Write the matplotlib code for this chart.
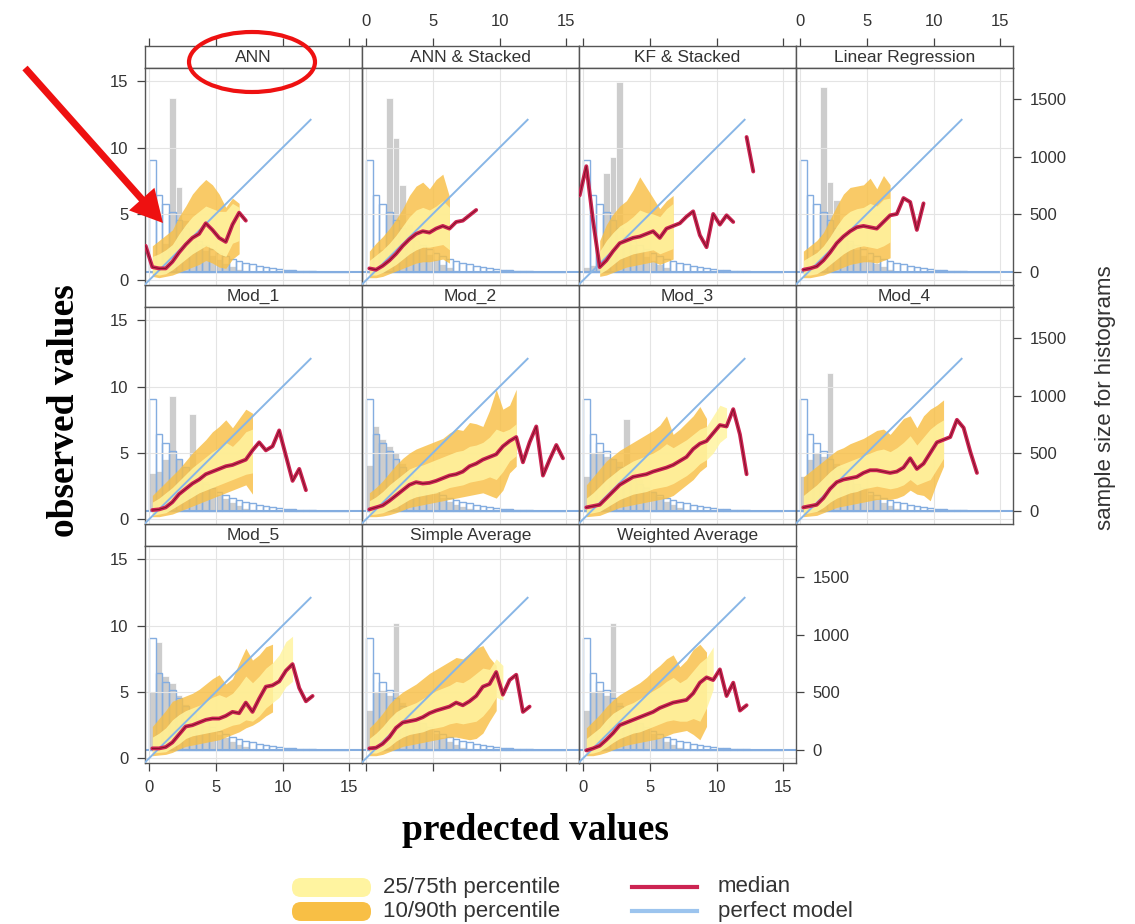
import numpy as np
import matplotlib
matplotlib.use("Agg")
import matplotlib.pyplot as plt
from matplotlib.patches import FancyBboxPatch, Ellipse, FancyArrow

plt.rcParams['font.family'] = ['Liberation Sans', 'DejaVu Sans']

nan = np.nan

# ---------------------------------------------------------------- data
MODELS = ["ANN", "ANN & Stacked", "KF & Stacked", "Linear Regression",
          "Mod_1", "Mod_2", "Mod_3", "Mod_4",
          "Mod_5", "Simple Average", "Weighted Average"]

# centres of the 0.5-wide predicted-value classes used for the quantile curves
CLASS_CENTRES = np.arange(-0.25, 15.0, 0.5)
# histogram classes (0.5 wide)
HIST_EDGES = np.arange(0.0, 15.01, 0.5)
# perfect model: observed == predicted
PERFECT_RANGE = [-0.3, 12.1]

# observed values histogram (same observations for every model)
OBS_COUNTS = [970, 670, 590, 520, 450, 380, 320, 270, 230, 195, 165, 140, 115, 95, 80,
              65, 52, 42, 34, 27, 21, 16, 12, 9, 6, 4, 3, 2, 1, 1]

# predicted values histograms
PRED_COUNTS = {
    "ANN":               [0, 80, 250, 1510, 740, 450, 320, 250, 190, 150, 110, 80, 50, 30, 15, 8],
    "ANN & Stacked":     [0, 60, 200, 1510, 1160, 750, 420, 300, 220, 160, 110, 70, 40, 20, 10],
    "KF & Stacked":      [40, 60, 100, 860, 1000, 1650, 320, 240, 180, 140, 100, 70, 40, 20, 10],
    "Linear Regression": [0, 60, 200, 1600, 780, 620, 350, 260, 200, 150, 110, 80, 50, 25, 10],
    "Mod_1":             [330, 350, 450, 1000, 450, 380, 840, 350, 260, 200, 150, 110, 80, 50, 30, 15],
    "Mod_2":             [400, 740, 620, 560, 500, 420, 360, 300, 250, 200, 160, 120, 90, 60, 40, 25, 15],
    "Mod_3":             [300, 500, 520, 480, 450, 430, 800, 350, 280, 220, 170, 130, 90, 60, 35, 20],
    "Mod_4":             [300, 450, 500, 480, 1200, 420, 380, 300, 240, 190, 150, 110, 80, 50, 30, 15],
    "Mod_5":             [500, 940, 640, 580, 480, 400, 330, 270, 220, 180, 140, 110, 80, 55, 35, 20],
    "Simple Average":    [350, 500, 520, 480, 1100, 420, 370, 300, 240, 190, 150, 110, 80, 50, 30, 15],
    "Weighted Average":  [350, 500, 520, 480, 1100, 420, 370, 300, 240, 190, 150, 110, 80, 50, 30, 15],
}

# conditional quantiles of observed values, per predicted-value class
MEDIAN = {
    "ANN":               [2.6, 1.0, 0.9, 0.9, 1.4, 2.1, 2.7, 3.2, 3.5, 4.3, 3.8, 3.2, 2.9, 4.2, 5.1, 4.5],
    "ANN & Stacked":     [nan, 0.9, 0.8, 1.1, 1.5, 2.0, 2.6, 3.1, 3.5, 3.7, 3.6, 3.9, 4.1, 3.9, 4.4, 4.5, 4.9, 5.3],
    "KF & Stacked":      [6.4, 8.6, 4.5, 1.0, 1.5, 2.2, 2.8, 3.0, 3.2, 3.3, 3.5, 3.7, 3.2, 3.9, 4.1, 4.3,
                          4.8, 5.2, 3.4, 2.5, 5.0, 4.2, 4.9, 4.4, nan, 10.8, 8.2],
    "Linear Regression": [nan, 0.8, 0.9, 1.05, 1.5, 2.1, 2.8, 3.3, 3.7, 4.0, 4.1, 4.0, 3.9, 4.4, 4.9, 5.0,
                          6.2, 5.9, 3.8, 5.8],
    "Mod_1":             [nan, 0.7, 0.75, 0.9, 1.3, 1.9, 2.3, 2.7, 3.0, 3.4, 3.6, 3.8, 4.0, 4.1, 4.3, 4.5,
                          5.2, 5.8, 5.2, 5.5, 6.7, 4.8, 2.9, 3.8, 2.2],
    "Mod_2":             [nan, 0.75, 0.9, 1.05, 1.4, 1.8, 2.2, 2.6, 2.8, 2.7, 2.75, 2.9, 3.1, 3.3, 3.4, 3.6,
                          4.0, 4.2, 4.5, 4.7, 4.9, 5.5, 5.9, 6.2, 4.3, 5.8, 7.0, 3.3, 4.5, 5.6, 4.6],
    "Mod_3":             [nan, 0.9, 1.0, 1.1, 1.6, 2.1, 2.6, 2.9, 3.2, 3.3, 3.4, 3.6, 3.75, 3.9, 4.1, 4.4,
                          4.7, 5.3, 5.7, 5.9, 6.5, 7.1, 7.0, 8.3, 6.4, 3.4],
    "Mod_4":             [nan, 0.9, 1.0, 1.1, 1.6, 2.3, 2.8, 3.0, 3.1, 3.2, 3.5, 3.7, 3.7, 3.6, 3.5, 3.6,
                          3.9, 4.6, 3.8, 4.2, 5.0, 5.8, 6.0, 6.2, 7.5, 6.9, 5.1, 3.5],
    "Mod_5":             [nan, 0.75, 0.75, 0.85, 1.2, 1.8, 2.4, 2.5, 2.7, 2.9, 3.0, 3.0, 3.2, 3.5, 3.4, 4.2,
                          3.5, 4.5, 5.4, 5.5, 5.8, 6.6, 7.1, 5.3, 4.3, 4.7],
    "Simple Average":    [nan, 0.75, 0.8, 1.1, 1.6, 2.3, 2.7, 2.8, 2.9, 3.1, 3.4, 3.6, 3.75, 3.9, 4.2, 4.0,
                          4.3, 4.7, 5.4, 5.6, 6.5, 4.8, 5.9, 6.3, 3.5, 3.9],
    "Weighted Average":  [nan, 0.6, 0.75, 0.95, 1.4, 1.9, 2.5, 2.7, 2.9, 3.1, 3.3, 3.5, 3.8, 4.0, 4.2, 4.3,
                          4.4, 4.9, 5.7, 6.1, 5.9, 6.7, 4.7, 5.7, 3.6, 4.0],
}

P90 = {
    "ANN":               [nan, 2.6, 3.0, 3.4, 3.8, 4.8, 5.6, 6.5, 7.1, 7.6, 7.2, 6.5, 5.5, 6.2, 5.8],
    "ANN & Stacked":     [nan, 2.2, 2.8, 3.3, 3.9, 4.6, 5.4, 6.4, 7.1, 7.4, 6.9, 7.6, 8.0, 6.3],
    "KF & Stacked":      [nan, nan, nan, 3.0, 4.2, 5.0, 5.6, 6.0, 6.8, 7.8, 7.0, 6.2, 5.4, 6.0, 6.4],
    "Linear Regression": [nan, 2.2, 2.6, 3.0, 3.6, 4.6, 5.6, 6.5, 7.0, 7.1, 7.2, 7.7, 6.9, 7.9, 7.2],
    "Mod_1":             [nan, 1.8, 2.3, 2.8, 3.3, 3.8, 4.4, 5.0, 5.5, 6.0, 6.6, 7.0, 7.5, 6.9, 7.6, 8.3, 8.0],
    "Mod_2":             [nan, 2.0, 2.4, 2.9, 3.5, 4.1, 4.6, 5.0, 5.3, 5.5, 5.7, 5.9, 6.1, 6.5, 6.8, 6.7,
                          7.3, 7.2, 7.0, 8.2, 9.8, 8.3, 8.6, 9.8],
    "Mod_3":             [nan, 2.6, 3.2, 3.8, 4.4, 4.8, 5.2, 5.5, 5.8, 6.1, 6.4, 6.7, 7.1, 7.8, 6.4, 6.8,
                          7.3, 7.8, 8.5, 7.6],
    "Mod_4":             [nan, 3.2, 3.6, 4.0, 4.4, 4.8, 5.2, 5.4, 5.7, 5.9, 6.1, 6.4, 6.7, 6.8, 6.4, 7.0,
                          7.6, 7.8, 6.9, 7.8, 8.3, 8.6, 9.0],
    "Mod_5":             [nan, 2.4, 3.0, 3.6, 4.3, 4.5, 4.7, 4.9, 5.2, 5.6, 6.0, 6.3, 5.6, 6.0, 7.2, 8.3,
                          7.4, 7.8, 8.4, 8.6],
    "Simple Average":    [nan, 2.3, 2.8, 3.4, 4.1, 4.6, 5.0, 5.3, 5.6, 6.0, 6.4, 6.7, 7.0, 7.3, 7.6, 7.5,
                          7.9, 8.3, 8.5, 7.6, 7.0],
    "Weighted Average":  [nan, 2.3, 2.8, 3.3, 3.9, 4.4, 4.8, 5.1, 5.4, 5.7, 6.1, 6.6, 7.0, 7.5, 7.8, 6.9,
                          7.4, 8.2, 8.6, 8.0],
}

P75 = {
    "ANN":               [nan, 1.8, 2.0, 2.3, 2.7, 3.5, 4.2, 4.8, 5.2, 5.6, 5.4, 5.2, 5.2, 5.8, 5.5],
    "ANN & Stacked":     [nan, 1.5, 1.9, 2.3, 2.8, 3.4, 4.1, 4.8, 5.3, 5.5, 5.3, 5.6, 6.0, 5.5],
    "KF & Stacked":      [nan, nan, nan, 2.2, 3.0, 3.6, 4.1, 4.4, 4.8, 5.3, 5.1, 5.0, 4.8, 5.4, 5.8],
    "Linear Regression": [nan, 1.5, 1.8, 2.1, 2.6, 3.3, 4.1, 4.8, 5.2, 5.4, 5.5, 5.8, 5.6, 6.1, 6.2],
    "Mod_1":             [nan, 1.3, 1.6, 2.0, 2.4, 2.9, 3.4, 3.9, 4.3, 4.7, 5.1, 5.4, 5.8, 5.5, 6.0, 6.6, 6.8],
    "Mod_2":             [nan, 1.4, 1.7, 2.1, 2.6, 3.0, 3.4, 3.8, 4.0, 4.1, 4.3, 4.5, 4.7, 4.9, 5.1, 5.2,
                          5.5, 5.6, 5.8, 6.2, 6.8, 6.6, 6.8, 7.2],
    "Mod_3":             [nan, 1.6, 2.0, 2.5, 3.0, 3.4, 3.8, 4.1, 4.4, 4.6, 4.8, 5.0, 5.3, 5.7, 5.4, 5.7,
                          6.0, 6.4, 6.8, 7.0, 7.8, 8.6, 8.4],
    "Mod_4":             [nan, 1.8, 2.2, 2.6, 3.1, 3.6, 4.0, 4.2, 4.4, 4.6, 4.8, 5.0, 5.2, 5.3, 5.1, 5.4,
                          5.8, 6.3, 5.6, 6.2, 6.8, 7.2, 7.5],
    "Mod_5":             [nan, 1.6, 1.9, 2.3, 2.9, 3.3, 3.6, 3.8, 4.0, 4.3, 4.6, 4.8, 4.6, 4.9, 5.5, 6.2,
                          5.7, 6.2, 6.8, 7.2, 7.8, 8.8, 9.2],
    "Simple Average":    [nan, 1.5, 1.9, 2.4, 3.0, 3.5, 3.8, 4.0, 4.2, 4.5, 4.8, 5.1, 5.3, 5.5, 5.8, 5.7,
                          6.0, 6.4, 6.8, 6.7, 7.5, 7.0],
    "Weighted Average":  [nan, 1.5, 1.9, 2.3, 2.9, 3.4, 3.7, 4.0, 4.2, 4.5, 4.8, 5.1, 5.4, 5.8, 6.1, 5.7,
                          6.0, 6.6, 7.2, 7.6, 8.4],
}

P25 = {
    "ANN":               [nan, 0.5, 0.4, 0.5, 0.8, 1.2, 1.6, 2.0, 2.3, 2.6, 2.4, 2.0, 1.8, 2.8, 3.0],
    "ANN & Stacked":     [nan, 0.4, 0.4, 0.6, 0.9, 1.2, 1.6, 2.0, 2.3, 2.5, 2.5, 2.6, 2.7, 2.3],
    "KF & Stacked":      [nan, nan, nan, 0.5, 0.8, 1.2, 1.6, 1.8, 2.0, 2.1, 2.2, 2.3, 2.0, 2.2, 2.4],
    "Linear Regression": [nan, 0.4, 0.4, 0.5, 0.8, 1.2, 1.6, 2.0, 2.3, 2.5, 2.6, 2.5, 2.4, 2.6, 2.9],
    "Mod_1":             [nan, 0.3, 0.4, 0.5, 0.8, 1.1, 1.4, 1.7, 2.0, 2.2, 2.4, 2.6, 2.8, 3.0, 3.2, 3.4, 3.5],
    "Mod_2":             [nan, 0.35, 0.4, 0.5, 0.7, 0.9, 1.2, 1.5, 1.7, 1.8, 1.9, 2.0, 2.2, 2.4, 2.5, 2.6,
                          2.8, 2.9, 3.0, 3.2, 3.0, 3.6, 4.4, 4.8],
    "Mod_3":             [nan, 0.4, 0.5, 0.6, 0.9, 1.2, 1.5, 1.7, 1.9, 2.0, 2.1, 2.3, 2.4, 2.5, 2.7, 3.0,
                          3.3, 3.7, 4.2, 4.5, 5.0, 5.8, 6.2],
    "Mod_4":             [nan, 0.4, 0.5, 0.6, 0.9, 1.3, 1.6, 1.8, 2.0, 2.1, 2.3, 2.4, 2.5, 2.4, 2.3, 2.4,
                          2.6, 3.0, 2.6, 2.8, 3.0, 3.8, 4.6],
    "Mod_5":             [nan, 0.4, 0.45, 0.5, 0.8, 1.1, 1.5, 1.7, 1.8, 1.9, 2.0, 2.1, 2.3, 2.5, 2.6, 2.9,
                          2.8, 3.2, 3.8, 4.2, 4.6, 5.4, 5.8],
    "Simple Average":    [nan, 0.4, 0.4, 0.6, 0.9, 1.3, 1.6, 1.8, 1.9, 2.0, 2.2, 2.3, 2.4, 2.6, 2.7, 2.6,
                          2.7, 2.8, 3.2, 3.8, 4.6, 4.4],
    "Weighted Average":  [nan, 0.35, 0.4, 0.55, 0.85, 1.2, 1.5, 1.7, 1.9, 2.0, 2.2, 2.4, 2.6, 2.8, 2.9, 2.8,
                          2.8, 3.0, 2.8, 3.8, 5.2],
}

P10 = {
    "ANN":               [nan, 0.3, 0.2, 0.3, 0.4, 0.6, 0.8, 1.0, 1.2, 1.5, 1.3, 1.0, 0.9, 1.6, 2.0],
    "ANN & Stacked":     [nan, 0.2, 0.2, 0.3, 0.5, 0.7, 0.9, 1.1, 1.3, 1.4, 1.4, 1.5, 1.6, 1.3],
    "KF & Stacked":      [nan, nan, nan, 0.3, 0.4, 0.6, 0.8, 1.0, 1.1, 1.2, 1.3, 1.4, 1.2, 1.4, 1.6],
    "Linear Regression": [nan, 0.2, 0.2, 0.3, 0.4, 0.6, 0.8, 1.0, 1.2, 1.3, 1.4, 1.4, 1.3, 1.5, 1.7],
    "Mod_1":             [nan, 0.2, 0.2, 0.3, 0.4, 0.6, 0.8, 1.0, 1.2, 1.4, 1.6, 1.8, 2.0, 2.2, 2.4, 2.6, 1.9],
    "Mod_2":             [nan, 0.2, 0.2, 0.25, 0.35, 0.5, 0.7, 0.9, 1.0, 1.1, 1.2, 1.3, 1.4, 1.5, 1.6, 1.7,
                          1.8, 1.9, 2.0, 1.8, 1.6, 2.2, 3.5, 4.0],
    "Mod_3":             [nan, 0.2, 0.25, 0.3, 0.5, 0.7, 0.9, 1.0, 1.1, 1.2, 1.3, 1.4, 1.5, 1.6, 1.8, 2.2,
                          2.6, 3.0, 3.6, 4.0],
    "Mod_4":             [nan, 0.2, 0.25, 0.3, 0.5, 0.7, 0.9, 1.0, 1.1, 1.2, 1.3, 1.4, 1.5, 1.5, 1.5, 1.6,
                          1.8, 2.2, 1.9, 1.8, 1.4, 2.8, 4.0],
    "Mod_5":             [nan, 0.2, 0.25, 0.3, 0.45, 0.7, 0.9, 1.0, 1.1, 1.2, 1.3, 1.4, 1.6, 1.8, 2.0, 2.3,
                          2.5, 2.8, 3.2, 3.5],
    "Simple Average":    [nan, 0.2, 0.2, 0.3, 0.5, 0.7, 0.9, 1.0, 1.1, 1.2, 1.3, 1.4, 1.5, 1.6, 1.6, 1.5,
                          1.4, 1.5, 1.9, 2.8, 3.6],
    "Weighted Average":  [nan, 0.2, 0.2, 0.3, 0.45, 0.65, 0.85, 1.0, 1.1, 1.2, 1.3, 1.4, 1.5, 1.7, 1.9, 2.0,
                          2.1, 1.8, 1.4, 2.4],
}

# ---------------------------------------------------------------- style
YELLOW = "#FFF4A0"
ORANGE = "#F8BF45"
MEDIAN_RED = "#CC2452"
MEDIAN_CORE = "#7E1229"
PERFECT_BLUE = "#88B6E6"
OBS_BLUE = "#84ADE0"
PRED_GREY = "#CDCDCD"
FRAME = "#555555"
TEXT = "#333333"
ANNOT_RED = "#EE1111"

XLIM = (-0.3, 15.95)
YLIM = (-0.35, 16.0)
COUNT_LIM = (-113, 1768)

W, H = 1135, 924
fig = plt.figure(figsize=(W / 100, H / 100), dpi=100)
fig.patch.set_facecolor("white")


def box(left, top, width, height):
    return [left / W, 1 - (top + height) / H, width / W, height / H]


def padded(values):
    out = np.full(len(CLASS_CENTRES), np.nan)
    out[:len(values)] = values
    return out


COL_LEFT = [145, 362, 579, 796]
ROW_TOP = [68, 307, 546]
PANEL_W, PANEL_H, STRIP_H = 217, 217, 22
TICKS = [0, 5, 10, 15]
COUNT_TICKS = [0, 500, 1000, 1500]

tick_kw = dict(direction="out", length=6, width=0.9, color="#444444",
               labelsize=12, labelcolor=TEXT, pad=6)

for i, name in enumerate(MODELS):
    r, c = divmod(i, 4)
    left, top = COL_LEFT[c], ROW_TOP[r]

    ax = fig.add_axes(box(left, top, PANEL_W, PANEL_H))
    hax = ax.twinx()
    ax.set_zorder(2)
    hax.set_zorder(1)
    ax.patch.set_visible(False)
    hax.patch.set_visible(True)
    hax.patch.set_facecolor("white")

    ax.set_xlim(*XLIM)
    ax.set_ylim(*YLIM)
    hax.set_ylim(*COUNT_LIM)

    # histograms on the count scale
    hax.bar(HIST_EDGES[:-1][:len(PRED_COUNTS[name])], PRED_COUNTS[name], width=0.5,
            align="edge", color=PRED_GREY, edgecolor="white", linewidth=0.5)
    hax.bar(HIST_EDGES[:-1], OBS_COUNTS, width=0.5, align="edge", fill=False,
            edgecolor=OBS_BLUE, linewidth=1.0)
    hax.axhline(0, color=OBS_BLUE, lw=1.5)

    # faint grid
    for t in TICKS:
        ax.axvline(t, color="#E4E4E4", lw=0.8, zorder=0)
        ax.axhline(t, color="#E4E4E4", lw=0.8, zorder=0)

    # quantile bands
    ax.fill_between(CLASS_CENTRES, padded(P10[name]), padded(P90[name]),
                    color=ORANGE, alpha=0.82, lw=0, zorder=2)
    ax.fill_between(CLASS_CENTRES, padded(P25[name]), padded(P75[name]),
                    color=YELLOW, alpha=0.85, lw=0, zorder=3)

    # perfect model and median
    ax.plot(PERFECT_RANGE, PERFECT_RANGE, color=PERFECT_BLUE, lw=1.4, zorder=4)
    med = padded(MEDIAN[name])
    ax.plot(CLASS_CENTRES, med, color=MEDIAN_RED, lw=2.8, zorder=5,
            solid_capstyle="round", solid_joinstyle="round")
    ax.plot(CLASS_CENTRES, med, color=MEDIAN_CORE, lw=0.7, zorder=6,
            solid_joinstyle="round")

    for sp in ax.spines.values():
        sp.set_color(FRAME)
        sp.set_linewidth(1.0)
    for sp in hax.spines.values():
        sp.set_visible(False)

    # value axes (left / bottom)
    ax.set_xticks(TICKS)
    ax.set_yticks(TICKS)
    ax.tick_params(axis="both", **tick_kw)
    ax.tick_params(top=False, labeltop=False, right=False, labelright=False)
    ax.tick_params(left=(c == 0), labelleft=(c == 0))
    ax.tick_params(bottom=(r == 2), labelbottom=(r == 2 and c in (0, 2)))

    # count axis (right)
    show_counts = (r < 2 and c == 3) or (r == 2 and c == 2)
    hax.set_yticks(COUNT_TICKS)
    hax.tick_params(axis="y", **tick_kw)
    hax.tick_params(right=show_counts, labelright=show_counts, left=False, labelleft=False)
    hax.tick_params(axis="x", bottom=False, labelbottom=False, top=False, labeltop=False)

    # strip with the model name
    sax = fig.add_axes(box(left, top - STRIP_H, PANEL_W, STRIP_H))
    sax.set_xlim(*XLIM)
    sax.set_ylim(0, 1)
    sax.set_facecolor("white")
    sax.set_yticks([])
    for sp in sax.spines.values():
        sp.set_color(FRAME)
        sp.set_linewidth(1.0)
    sax.text(0.5, 0.47, name, transform=sax.transAxes, ha="center", va="center",
             fontsize=12.5, color=TEXT)
    if r == 0:
        sax.xaxis.tick_top()
        sax.set_xticks(TICKS)
        sax.tick_params(axis="x", **tick_kw)
        sax.tick_params(bottom=False, labelbottom=False, labeltop=(c in (1, 3)))
    else:
        sax.set_xticks([])

# axis titles
fig.text(65 / W, 1 - 411 / H, "observed values", rotation=90, ha="center", va="center",
         family=["Liberation Serif", "DejaVu Serif"], fontweight="bold", fontsize=27)
fig.text(535 / W, 1 - 831 / H, "predected values", ha="center", va="center",
         family=["Liberation Serif", "DejaVu Serif"], fontweight="bold", fontsize=27)
fig.text(1105 / W, 1 - 398 / H, "sample size for histograms", rotation=90,
         ha="center", va="center", fontsize=16, color=TEXT)

# overlay in pixel units for the key and the highlight marks
ov = fig.add_axes([0, 0, 1, 1], zorder=10)
ov.set_xlim(0, W)
ov.set_ylim(H, 0)
ov.axis("off")
ov.patch.set_visible(False)

ov.add_patch(FancyBboxPatch((292, 878), 79, 19, boxstyle="round,pad=0,rounding_size=9",
                            fc=YELLOW, ec="none"))
ov.add_patch(FancyBboxPatch((292, 902), 79, 19, boxstyle="round,pad=0,rounding_size=9",
                            fc=ORANGE, ec="none"))
ov.text(383, 887, "25/75th percentile", fontsize=16, va="center", color=TEXT)
ov.text(383, 911, "10/90th percentile", fontsize=16, va="center", color=TEXT)
ov.plot([632, 697], [887, 887], color=MEDIAN_RED, lw=3)
ov.plot([632, 697], [911, 911], color="#9CC4EE", lw=3)
ov.text(718, 887, "median", fontsize=16, va="center", color=TEXT)
ov.text(718, 911, "perfect model", fontsize=16, va="center", color=TEXT)

ov.add_patch(Ellipse((252, 62), 126, 60, fill=False, ec=ANNOT_RED, lw=3))
ov.add_patch(FancyArrow(25, 68, 138, 155, width=7, head_width=34, head_length=32,
                        length_includes_head=True, color=ANNOT_RED, lw=0))

fig.savefig("out.png", dpi=100, facecolor="white")
